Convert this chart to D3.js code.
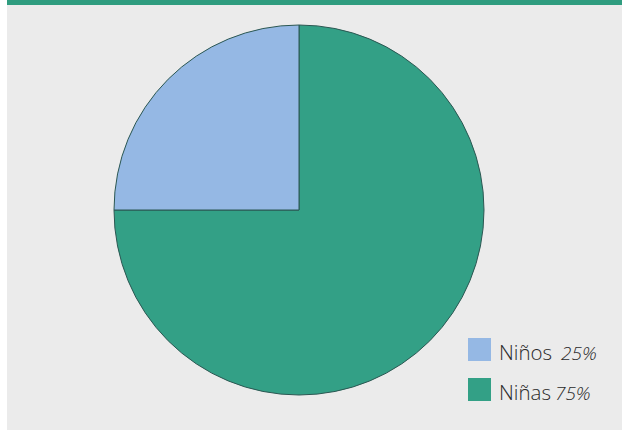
<!DOCTYPE html>
<html><head><meta charset="utf-8">
<script src="https://cdn.jsdelivr.net/npm/d3@7"></script>
<style>html,body{margin:0;padding:0;background:#fff;}svg{display:block;}</style>
</head><body>
<script>
const categories = ["Niñas", "Niños"];
const values = [75, 25];
const labels = ["75%", "25%"];
const colors = ["#33a086", "#95b8e4"];

const W = 622, H = 430;
const svg = d3.select("body").append("svg").attr("width", W).attr("height", H);
svg.append("rect").attr("x", 0).attr("y", 0).attr("width", W).attr("height", H).attr("fill", "#ffffff");
svg.append("rect").attr("x", 7).attr("y", 0).attr("width", W - 7).attr("height", H).attr("fill", "#ebebeb");
svg.append("rect").attr("x", 7).attr("y", 0).attr("width", W - 7).attr("height", 5).attr("fill", "#2f9c7f");

const cx = 299, cy = 210, r = 185;
const pie = d3.pie().sort(null).value(d => d)(values);
const arc = d3.arc().innerRadius(0).outerRadius(r);
const g = svg.append("g").attr("transform", `translate(${cx},${cy})`);
g.selectAll("path").data(pie).join("path")
  .attr("d", arc)
  .attr("fill", (d, i) => colors[i])
  .attr("stroke", "#2b5752")
  .attr("stroke-width", 1);

// legend (Niños first, then Niñas)
const order = [1, 0];
const lg = svg.append("g");
order.forEach((idx, k) => {
  const y0 = 338 + k * 40;
  lg.append("rect").attr("x", 468).attr("y", y0).attr("width", 23).attr("height", 23).attr("fill", colors[idx]);
  const t = lg.append("text").attr("x", 499).attr("y", y0 + 22)
    .attr("font-family", "'Open Sans', sans-serif").attr("font-weight", 300)
    .attr("font-size", 20.5).attr("fill", "#2a2a2a");
  t.append("tspan").text(categories[idx]);
  t.append("tspan").attr("font-style", "italic").attr("font-size", 19)
    .attr("dx", idx === 1 ? 9 : 4).text(labels[idx]);
});
</script>
</body></html>
